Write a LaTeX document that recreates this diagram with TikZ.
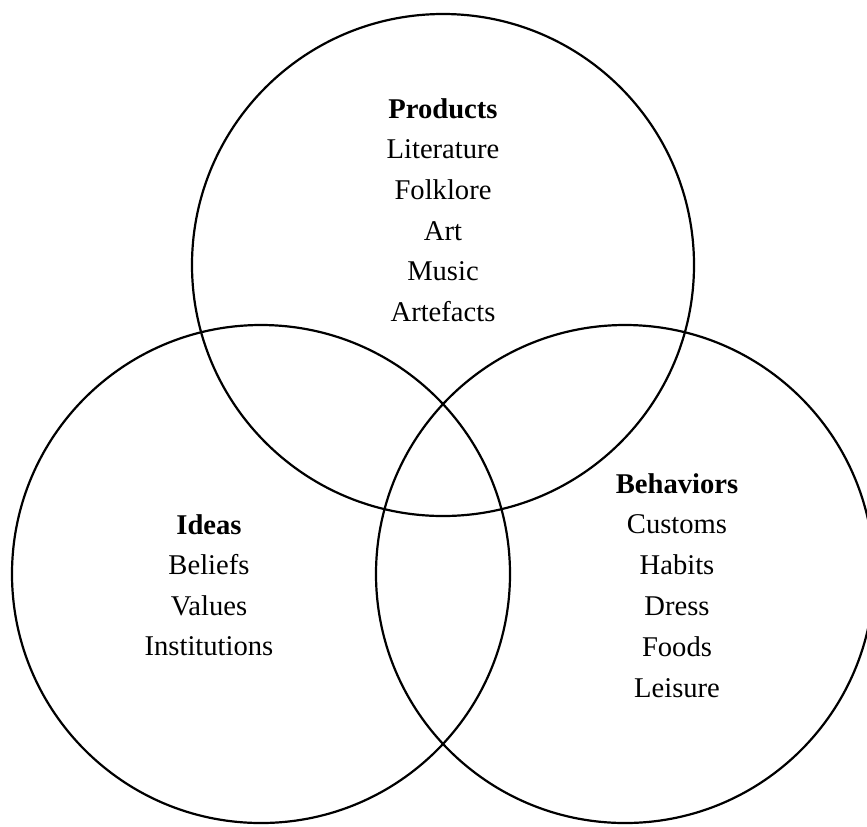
\documentclass[tikz,border=0pt]{standalone}
\usepackage{fontspec}
\setmainfont{Liberation Serif}
\tikzset{
  ring/.style={draw=black, line width=1.1pt, circle, inner sep=0pt},
  item/.style={anchor=base, inner sep=0pt, font=\fontsize{14.3}{17}\selectfont},
  head/.style={item, font=\fontsize{14.3}{17}\selectfont\bfseries}
}
\begin{document}
\begin{tikzpicture}[x=0.5pt,y=-0.5pt]
        \useasboundingbox (0,0) rectangle (867,826);

        % Circles
        \node[ring, minimum size=251pt] (products) at (443,265) {};
        \node[ring, minimum size=249pt] (ideas) at (261,574) {};
        \node[ring, minimum size=249pt] (behaviors) at (625,574) {};

        % Products
        \node[head] (prodhead) at (443,118) {Products};
        \foreach \txt [count=\k] in {Literature,Folklore,Art,Music,Artefacts}
            \node[item] (prod\k) at (443,118+40.7*\k) {\txt};

        % Ideas
        \node[head] (ideahead) at (209,534) {Ideas};
        \foreach \txt [count=\k] in {Beliefs,Values,Institutions}
            \node[item] (idea\k) at (209,534+40.5*\k) {\txt};

        % Behaviors
        \node[head] (behhead) at (677,493) {Behaviors};
        \foreach \txt [count=\k] in {Customs,Habits,Dress,Foods,Leisure}
            \node[item] (beh\k) at (677,493+40.8*\k) {\txt};
\end{tikzpicture}
\end{document}
